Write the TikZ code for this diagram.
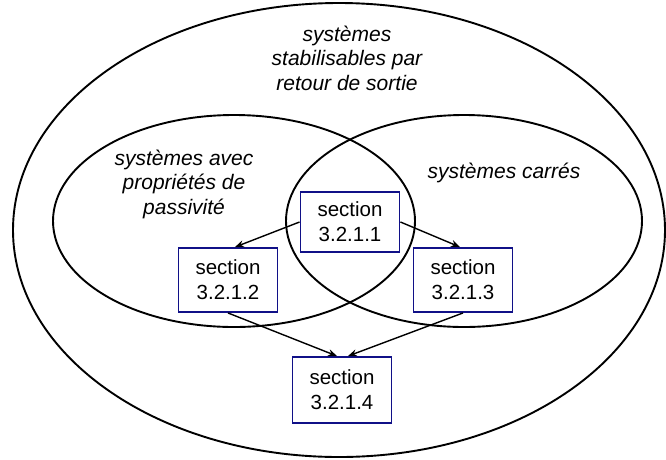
\documentclass[tikz,border=0pt]{standalone}
\usepackage{fontspec}
\setmainfont{Liberation Sans}
\usetikzlibrary{arrows.meta}
\definecolor{boxblue}{RGB}{16,16,135}
\tikzset{
  setline/.style={draw=black, line width=1.9pt},
  secbox/.style={draw=boxblue, line width=1.9pt, fill=white, minimum width=99pt, minimum height=62pt,
    inner sep=0pt, align=center, font=\fontsize{20.5}{25}\selectfont},
  setlabel/.style={align=center, inner sep=0pt, font=\fontsize{21}{24.5}\selectfont\itshape},
  conn/.style={draw=black, line width=1.4pt, -{Stealth[length=9pt,width=7pt]}}
}
\begin{document}
\begin{tikzpicture}[x=1pt,y=-1pt]
\useasboundingbox (0,0) rectangle (666,459);
% sets
\draw[setline] (339,230) ellipse [x radius=326, y radius=227];
\draw[setline] (234,221) ellipse [x radius=181, y radius=106];
\draw[setline] (464,221) ellipse [x radius=178, y radius=106];
% set labels
\node[setlabel] (lout) at (347,58) {systèmes\\stabilisables par\\retour de sortie};
\node[setlabel] (lleft) at (184,184) {systèmes avec\\propriétés de\\passivité};
\node[setlabel, anchor=base] (lright) at (504,178) {systèmes carrés};
% boxes
\node[secbox, minimum height=60pt] (b1) at (350,222) {section\\3.2.1.1};
\node[secbox, minimum height=64pt] (b2) at (228,280) {section\\3.2.1.2};
\node[secbox, minimum height=64pt] (b3) at (463,280) {section\\3.2.1.3};
\node[secbox, minimum height=66pt] (b4) at (342,390) {section\\3.2.1.4};
% connectors
\draw[conn] (b1.west) -- ([xshift=7pt]b2.north);
\draw[conn] (b1.east) -- ([xshift=-3pt]b3.north);
\draw[conn] (b2.south) -- ([xshift=-5pt]b4.north);
\draw[conn] (b3.south) -- ([xshift=6pt]b4.north);
\end{tikzpicture}
\end{document}
